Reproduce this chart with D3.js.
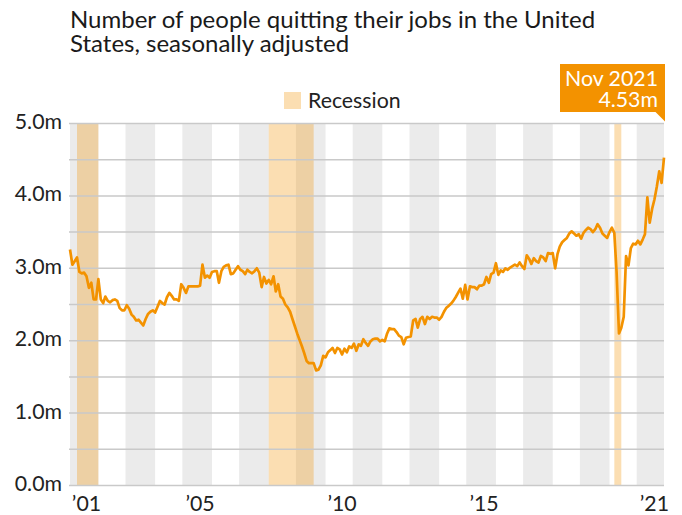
<!DOCTYPE html>
<html lang="en">
<head>
<meta charset="UTF-8">
<title>Quits</title>
<script src="https://d3js.org/d3.v7.min.js"></script>
<style>
  body { margin: 0; background: white; }
  svg text { font-family: Lato, "Noto Sans", sans-serif; }
</style>
</head>
<body>
<svg id="main" width="682" height="515"></svg>
<script>
// monthly quits, millions, starting Dec 2000
const startMonth = new Date(2000, 11, 1);
const quits = [
  3.26, 3.05, 3.10, 3.15, 2.95, 2.93, 2.94, 2.89, 2.73, 2.80, 2.57, 2.57,
  2.85, 2.57, 2.52, 2.61, 2.55, 2.53, 2.56, 2.57, 2.55, 2.45, 2.42, 2.42,
  2.49, 2.44, 2.36, 2.33, 2.28, 2.29, 2.25, 2.21, 2.30, 2.37, 2.40, 2.42,
  2.39, 2.47, 2.55, 2.52, 2.50, 2.60, 2.66, 2.62, 2.57, 2.57, 2.55, 2.78,
  2.73, 2.66, 2.75, 2.75, 2.75, 2.75, 2.75, 2.76, 3.05, 2.87, 2.90, 2.87,
  2.95, 2.96, 2.96, 2.80, 2.96, 3.02, 3.04, 3.05, 2.92, 2.93, 2.98, 3.03,
  2.98, 2.96, 2.92, 2.98, 2.95, 2.93, 2.96, 3.00, 2.94, 2.74, 2.88, 2.79,
  2.84, 2.78, 2.89, 2.68, 2.78, 2.61, 2.58, 2.50, 2.46, 2.40, 2.30, 2.20,
  2.10, 2.01, 1.92, 1.83, 1.72, 1.69, 1.69, 1.69, 1.59, 1.60, 1.66, 1.79,
  1.77, 1.84, 1.87, 1.90, 1.83, 1.90, 1.88, 1.81, 1.89, 1.84, 1.92, 1.90,
  1.96, 1.86, 1.95, 1.93, 2.02, 1.97, 1.93, 1.99, 2.02, 2.03, 2.03, 1.99,
  2.01, 1.99, 2.10, 2.17, 2.16, 2.16, 2.12, 2.07, 2.05, 1.95, 2.04, 2.05,
  2.06, 2.28, 2.30, 2.18, 2.30, 2.33, 2.23, 2.33, 2.30, 2.33, 2.32, 2.32,
  2.29, 2.33, 2.40, 2.45, 2.48, 2.51, 2.55, 2.60, 2.66, 2.72, 2.58, 2.77,
  2.57, 2.75, 2.74, 2.74, 2.71, 2.76, 2.76, 2.78, 2.88, 2.80, 2.92, 2.94,
  3.07, 2.91, 2.97, 2.95, 3.00, 2.98, 3.01, 3.03, 3.05, 3.03, 3.08, 3.03,
  2.99, 3.18, 3.13, 3.06, 3.14, 3.10, 3.08, 3.17, 3.15, 3.10, 3.21, 3.20,
  3.21, 3.00, 3.20, 3.30, 3.36, 3.39, 3.42, 3.48, 3.51, 3.48, 3.45, 3.47,
  3.41, 3.49, 3.53, 3.56, 3.54, 3.50, 3.54, 3.61, 3.56, 3.48, 3.45, 3.42,
  3.50, 3.56, 3.49, 2.95, 2.10, 2.18, 2.33, 3.17, 3.04, 3.28, 3.34, 3.33,
  3.38, 3.33, 3.40, 3.47, 3.98, 3.63, 3.82, 3.95, 4.13, 4.34, 4.18, 4.53
];
// recession start / end months
const recessions = [
  ["2001-03", "2001-11"],
  ["2007-12", "2009-06"],
  ["2020-02", "2020-04"]
];
const yTicks = [0, 0.5, 1, 1.5, 2, 2.5, 3, 3.5, 4, 4.5, 5];
const yLabelTicks = [0, 1, 2, 3, 4, 5];
const xTickYears = [2001, 2005, 2010, 2015, 2021];
const bandYears = d3.range(2001, 2022, 2);

const orange = "#f39200";
const fs = 21.3;
let svg = d3.select("svg#main");
let margins = {left: 70, right: 18, top: 123.5, bottom: 29.5};
let W = 682, H = 515;

let data = quits.map(function (v, i) {
  return {date: d3.timeMonth.offset(startMonth, i), value: v};
});
let parseMonth = d3.timeParse("%Y-%m");

let x = d3.scaleTime()
  .domain(d3.extent(data, d => d.date))
  .range([margins.left, W - margins.right]);
let y = d3.scaleLinear().domain([0, 5]).range([H - margins.bottom, margins.top]);

// alternating year bands
function bandStart(yr) {
  return Math.max(x.range()[0], x(d3.timeDay.offset(new Date(yr, 0, 1), -47)));
}
function bandEnd(yr) {
  return Math.min(x.range()[1], x(new Date(yr, 11, 1)));
}
svg.append("g").selectAll("rect")
  .data(bandYears)
  .join("rect")
  .attr("x", d => bandStart(d))
  .attr("width", d => bandEnd(d) - bandStart(d))
  .attr("y", y(5))
  .attr("height", y(0) - y(5))
  .attr("fill", "#ebebeb");

// recessions
svg.append("g").selectAll("rect")
  .data(recessions)
  .join("rect")
  .attr("x", d => x(parseMonth(d[0])))
  .attr("width", d => x(d3.timeMonth.offset(parseMonth(d[1]), 1)) - x(parseMonth(d[0])))
  .attr("y", y(5))
  .attr("height", y(0) - y(5))
  .attr("fill", orange)
  .attr("fill-opacity", 0.3);

// gridlines
svg.append("g").selectAll("line")
  .data(yTicks)
  .join("line")
  .attr("x1", x.range()[0] - 1)
  .attr("x2", x.range()[1])
  .attr("y1", d => y(d))
  .attr("y2", d => y(d))
  .attr("stroke", "#c9c9c9")
  .attr("stroke-width", 1.5);

// y labels
svg.append("g").selectAll("text")
  .data(yLabelTicks)
  .join("text")
  .attr("x", 62)
  .attr("y", d => y(d) + 5.5)
  .attr("text-anchor", "end")
  .attr("font-size", fs)
  .attr("fill", "#222")
  .text(d => d3.format(".1f")(d) + "m");

// x labels at mid-year
svg.append("g").selectAll("text")
  .data(xTickYears)
  .join("text")
  .attr("x", d => x(new Date(d, 6, 1)))
  .attr("y", 511)
  .attr("text-anchor", "middle")
  .attr("font-size", fs)
  .attr("fill", "#222")
  .text(d => "\u2019" + String(d).slice(2));

// line
let line = d3.line().x(d => x(d.date)).y(d => y(d.value));
svg.append("path")
  .datum(data)
  .attr("d", line)
  .attr("fill", "none")
  .attr("stroke", orange)
  .attr("stroke-width", 2.7)
  .attr("stroke-linejoin", "round");

// title
let title = svg.append("text")
  .attr("x", 70)
  .attr("y", 28)
  .attr("font-size", 24)
  .attr("fill", "#1a1a1a");
title.append("tspan").attr("x", 70).text("Number of people quitting their jobs in the United");
title.append("tspan").attr("x", 70).attr("dy", 24).text("States, seasonally adjusted");

// legend
svg.append("rect")
  .attr("x", 284).attr("y", 92).attr("width", 17).attr("height", 17)
  .attr("fill", orange).attr("fill-opacity", 0.3);
svg.append("text")
  .attr("x", 308).attr("y", 107.5)
  .attr("font-size", fs)
  .attr("fill", "#222")
  .text("Recession");

// annotation for last value
let last = data[data.length - 1];
let ax = x(last.date) + 1;
let ann = svg.append("g");
ann.append("rect")
  .attr("x", ax - 105).attr("y", 64).attr("width", 105).attr("height", 48)
  .attr("fill", orange);
ann.append("path")
  .attr("d", "M" + (ax - 10) + ",111.5L" + ax + ",111.5L" + ax + ",121.5Z")
  .attr("fill", orange);
ann.append("text")
  .attr("x", ax - 7).attr("y", 85.5)
  .attr("text-anchor", "end")
  .attr("font-size", fs)
  .attr("fill", "white")
  .text(d3.timeFormat("%b %Y")(last.date));
ann.append("text")
  .attr("x", ax - 7).attr("y", 107)
  .attr("text-anchor", "end")
  .attr("font-size", fs)
  .attr("fill", "white")
  .text(d3.format(".2f")(last.value) + "m");
</script>
</body>
</html>
